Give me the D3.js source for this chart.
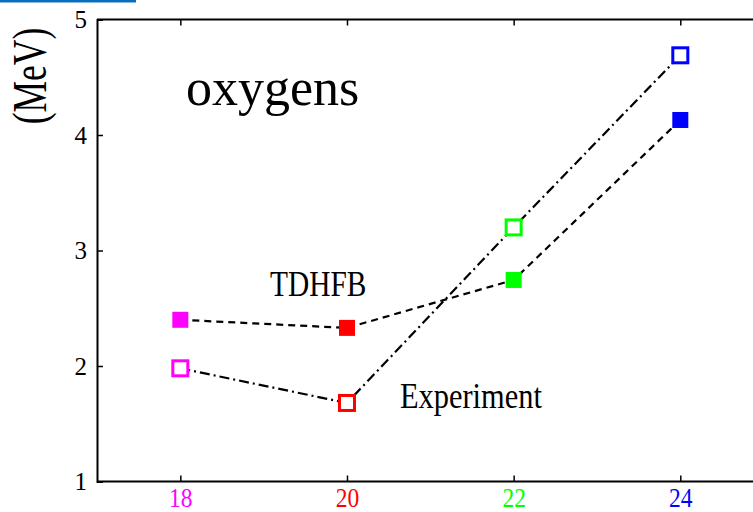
<!DOCTYPE html>
<html><head><meta charset="utf-8">
<script src="https://cdn.jsdelivr.net/npm/d3@7"></script>
<style>body{margin:0;background:#fff;overflow:hidden}svg{display:block}</style>
</head><body>
<svg id="c" width="753" height="512"></svg>
<script>
const masses = [18, 20, 22, 24];
const massColors = ["#ff00ff", "#ff0000", "#00ff00", "#0000ff"];
const experiment = [1.98, 1.68, 3.20, 4.69];
const tdhfb = [2.40, 2.33, 2.745, 4.13];
const yTicks = [1, 2, 3, 4, 5];

const svg = d3.select("#c");
const font = "'Liberation Serif', 'Times New Roman', serif";
const L = 97, T = 19.5, B = 481.5;
const x = d3.scaleLinear().domain([17, 25]).range([L, L + 8 * 83.33]);
const y = d3.scaleLinear().domain([1, 5]).range([B, T]);

// blue bar at top-left
svg.append("rect").attr("x", 0).attr("y", 0).attr("width", 136).attr("height", 2.5).attr("fill", "#0a6ebd");

// axes
const gx = svg.append("g").attr("transform", `translate(0,${B})`)
  .call(d3.axisBottom(x).tickValues(masses).tickSize(-6).tickPadding(0).tickFormat(d3.format("d")));
const gxt = svg.append("g").attr("transform", `translate(0,${T})`)
  .call(d3.axisTop(x).tickValues(masses).tickSize(-6).tickFormat(""));
const gy = svg.append("g").attr("transform", `translate(${L},0)`)
  .call(d3.axisLeft(y).tickValues(yTicks).tickSize(-6).tickPadding(10).tickFormat(d3.format("d")));
[gx, gxt, gy].forEach(g => {
  g.attr("font-family", font);
  g.select(".domain").attr("stroke", "#000").attr("stroke-width", 2);
  g.selectAll(".tick line").attr("stroke", "#000").attr("stroke-width", 1.5);
  g.selectAll("text").attr("font-family", font).attr("fill", "#000");
});
gx.select(".domain").attr("d", `M${L},0H760`);
gxt.select(".domain").attr("d", `M${L},0H760`);
gx.attr("font-size", 28);
gx.selectAll(".tick text").attr("fill", (d, i) => massColors[i])
  .attr("font-size", 28).attr("y", 25.5).attr("dy", 0)
  .attr("transform", "scale(0.84,1)");
gy.attr("font-size", 25);
gy.selectAll(".tick text").attr("font-size", 25).attr("dy", "0.32em");

// lines
const line = d3.line().x(d => x(d[0])).y(d => y(d[1]));
svg.append("path").datum(masses.map((m, i) => [m, tdhfb[i]]))
  .attr("d", line).attr("fill", "none").attr("stroke", "#000").attr("stroke-width", 2.2)
  .attr("stroke-dasharray", "7,5");
svg.append("path").datum(masses.map((m, i) => [m, experiment[i]]))
  .attr("d", line).attr("fill", "none").attr("stroke", "#000").attr("stroke-width", 2.2)
  .attr("stroke-dasharray", "10,4,2,4");

// markers
const s = 16, so = 15;
svg.selectAll(".filled").data(masses).enter().append("rect")
  .attr("x", (d) => x(d) - s / 2).attr("y", (d, i) => y(tdhfb[i]) - s / 2)
  .attr("width", s).attr("height", s).attr("fill", (d, i) => massColors[i]);
svg.selectAll(".open").data(masses).enter().append("rect")
  .attr("x", (d) => x(d) - so / 2).attr("y", (d, i) => y(experiment[i]) - so / 2)
  .attr("width", so).attr("height", so).attr("fill", "#fff")
  .attr("stroke", (d, i) => massColors[i]).attr("stroke-width", 3);

// texts
function label(txt, px, py, size, sx, rot) {
  svg.append("text")
    .attr("transform", `translate(${px},${py}) rotate(${rot || 0}) scale(${sx},1)`)
    .attr("font-family", font).attr("font-size", size)
    .attr("text-anchor", rot ? "middle" : "start").attr("fill", "#000").text(txt);
}
label("oxygens", 186, 105, 52, 1);
label("TDHFB", 270, 296, 35, 0.84);
label("Experiment", 400, 408, 36, 0.845);
label("(MeV)", 46, 76, 48, 0.74, -90);
</script>
</body></html>
